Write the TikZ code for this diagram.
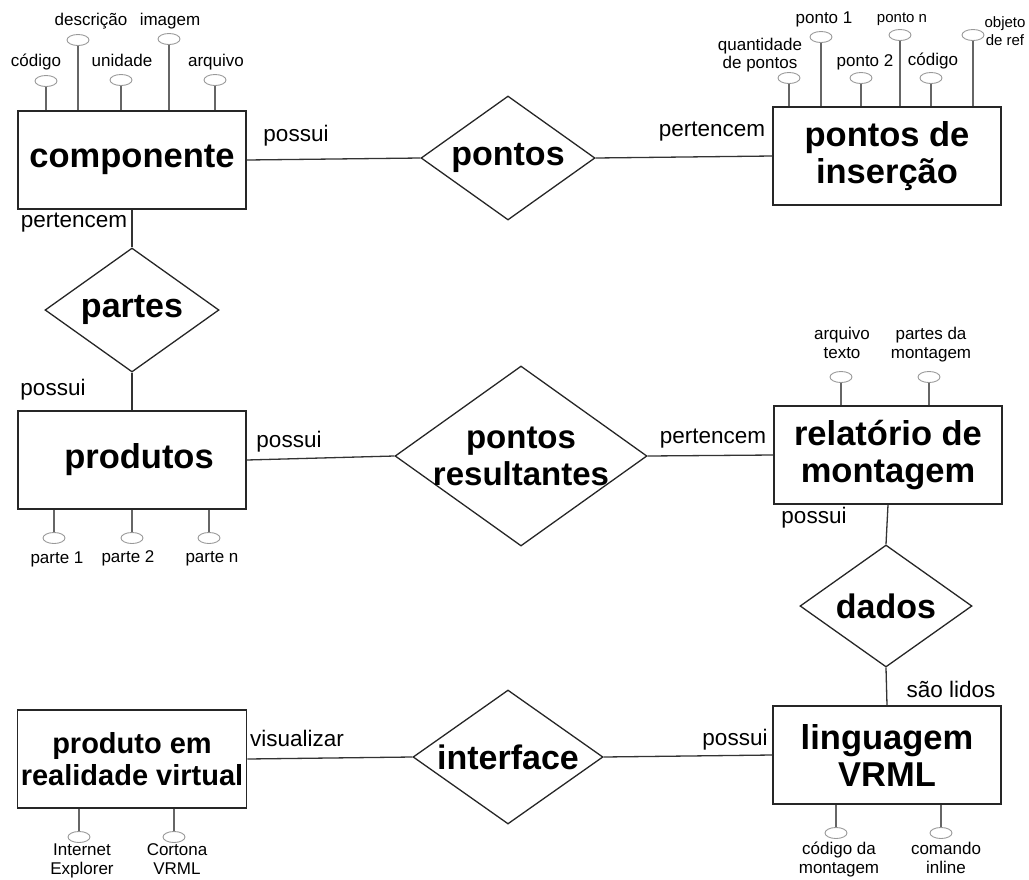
\documentclass[tikz,border=0pt]{standalone}
\usepackage{fontspec}
\setmainfont{Liberation Sans}
\usetikzlibrary{shapes.geometric}

\tikzset{
  entity/.style={draw=black!85, line width=1.5pt, minimum width=228pt, minimum height=98pt, align=center, font=\bfseries\fontsize{34.5}{37}\selectfont},
  relation/.style={diamond, draw=black!85, line width=1.3pt, inner sep=-30pt, align=center, font=\bfseries\fontsize{34}{37}\selectfont},
  attr/.style={ellipse, draw=black!40, line width=0.9pt, minimum width=22pt, minimum height=11pt, inner sep=0pt},
  attrtext/.style={align=center, inner sep=0pt, execute at begin node=\strut, execute at end node=\strut},
  role/.style={inner sep=0pt, font=\fontsize{22.5}{25}\selectfont, execute at begin node=\strut},
  link/.style={draw=black!80, line width=1.3pt},
  attrlink/.style={draw=black!60, line width=1.1pt}
}

\begin{document}
\begin{tikzpicture}[x=1pt, y=-1pt]
  \useasboundingbox (0,0) rectangle (1029,879);

  \node[entity] (comp) at (132,160) {componente};
  \node[entity] (insercao) at (887,156) {pontos de\\inserção};
  \node[entity] (produtos) at (132,460) {\hspace*{14pt}produtos};
  \node[entity] (relat) at (888,455) {relatório de\\montagem};
  \node[entity] (vrml) at (887,755) {linguagem\\VRML};
  \node[entity, font=\bfseries\fontsize{29}{32}\selectfont] (prv) at (132,759) {produto em\\realidade virtual};

  \node[relation, minimum width=174pt, minimum height=124pt] (pontos) at (508,158) {pontos};
  \node[relation, minimum width=174pt, minimum height=124pt] (partes) at (132,310) {partes};
  \node[relation, minimum width=252pt, minimum height=180pt, font=\bfseries\fontsize{33}{37}\selectfont] (pres) at (521,456) {pontos\\resultantes};
  \node[relation, minimum width=172pt, minimum height=122pt] (dados) at (886,606) {dados};
  \node[relation, minimum width=190pt, minimum height=134pt] (interface) at (508,757) {interface};

  \draw[link] (comp.east) -- (pontos.west);
  \draw[link] (pontos.east) -- (insercao.west);
  \draw[link] (comp.south) -- (partes.north);
  \draw[link] (partes.south) -- (produtos.north);
  \draw[link] (produtos.east) -- (pres.west);
  \draw[link] (pres.east) -- (relat.west);
  \draw[link] (relat.south) -- (dados.north);
  \draw[link] (dados.south) -- (vrml.north);
  \draw[link] (prv.east) -- (interface.west);
  \draw[link] (interface.east) -- (vrml.west);

  \node[role] (r1) at (296,136) {possui};
  \node[role] (r2) at (712,131) {pertencem};
  \node[role] (r3) at (74,222) {pertencem};
  \node[role] (r4) at (53,390) {possui};
  \node[role] (r5) at (289,442) {possui};
  \node[role] (r6) at (713,438) {pertencem};
  \node[role] (r7) at (814,518) {possui};
  \node[role] (r8) at (951,692) {são lidos};
  \node[role] (r9) at (297,741) {visualizar};
  \node[role] (r10) at (735,740) {possui};

  \foreach \n/\ax/\ay/\tx/\ty/\s/\txt in {c1/46/81/36/63/17/código, c2/78/40/91/22/17/descrição, c3/121/80/122/63/17/unidade, c4/169/39/170/22/17/imagem, c5/215/80/216/63/17/arquivo}{
    \node[attr] (\n) at (\ax,\ay) {};
    \node[attrtext, font=\fontsize{\s}{19}\selectfont] (\n-t) at (\tx,\ty) {\txt};
    \draw[attrlink] (\n) -- (\n |- comp.north);
  }
  \foreach \n/\ax/\ay/\tx/\ty/\s/\txt in {i1/789/78/760/56/17/{quantidade\\de pontos}, i2/821/37/824/20/17/ponto 1, i3/861/78/865/63/17/ponto 2, i4/900/35/902/19/15/ponto n, i5/931/78/933/62/17/código, i6/973/35/1005/34/15/{objeto\\de ref}}{
    \node[attr] (\n) at (\ax,\ay) {};
    \node[attrtext, font=\fontsize{\s}{18}\selectfont] (\n-t) at (\tx,\ty) {\txt};
    \draw[attrlink] (\n) -- (\n |- insercao.north);
  }
  \foreach \n/\ax/\ay/\tx/\ty/\s/\txt in {m1/841/377/842/346/17/{arquivo\\texto}, m2/929/377/931/346/17/{partes da\\montagem}}{
    \node[attr] (\n) at (\ax,\ay) {};
    \node[attrtext, font=\fontsize{\s}{19}\selectfont] (\n-t) at (\tx,\ty) {\txt};
    \draw[attrlink] (\n) -- (\n |- relat.north);
  }
  \foreach \n/\ax/\ay/\tx/\ty/\s/\txt in {p1/54/538/57/560/17/parte 1, p2/132/538/128/559/17/parte 2, p3/209/538/212/559/17/parte n}{
    \node[attr] (\n) at (\ax,\ay) {};
    \node[attrtext, font=\fontsize{\s}{19}\selectfont] (\n-t) at (\tx,\ty) {\txt};
    \draw[attrlink] (\n) -- (\n |- produtos.south);
  }
  \foreach \n/\ax/\ay/\tx/\ty/\s/\txt in {v1/836/833/839/861/17/{código da\\montagem}, v2/941/833/946/861/17/{comando\\inline}}{
    \node[attr] (\n) at (\ax,\ay) {};
    \node[attrtext, font=\fontsize{\s}{19}\selectfont] (\n-t) at (\tx,\ty) {\txt};
    \draw[attrlink] (\n) -- (\n |- vrml.south);
  }
  \foreach \n/\ax/\ay/\tx/\ty/\s/\txt in {b1/79/837/82/862/17/{Internet\\Explorer}, b2/174/837/177/862/17/{Cortona\\VRML}}{
    \node[attr] (\n) at (\ax,\ay) {};
    \node[attrtext, font=\fontsize{\s}{19}\selectfont] (\n-t) at (\tx,\ty) {\txt};
    \draw[attrlink] (\n) -- (\n |- prv.south);
  }
\end{tikzpicture}
\end{document}
